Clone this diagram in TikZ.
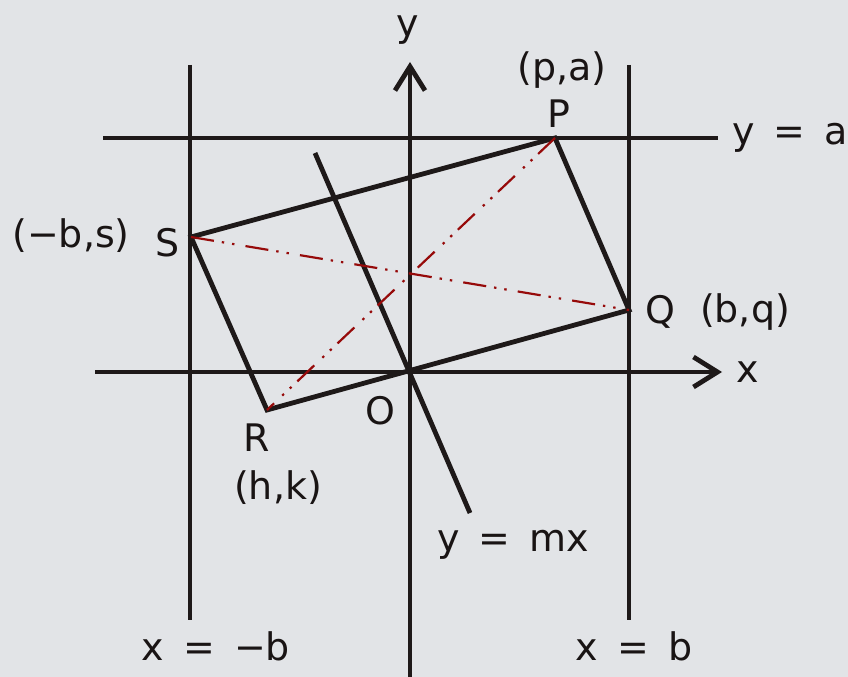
\documentclass[tikz,border=0pt]{standalone}
\usepackage{fontspec}
\setmainfont{DejaVu Sans}
\usetikzlibrary{arrows.meta}
\definecolor{marble}{RGB}{226,228,231}
\definecolor{diag}{RGB}{150,10,10}
\newcommand\lblfont{\fontsize{27}{30}\selectfont\spaceskip=0.5em\relax}

\begin{document}
\begin{tikzpicture}[
  x=0.25mm, y=-0.25mm,
  font=\lblfont,
  ln/.style={line width=1.2mm, draw={rgb,255:red,30;green,25;blue,25}},
  axis/.style={ln, -{Straight Barb[length=6mm, width=7.5mm, line width=1.2mm]}},
  dg/.style={diag, line width=0.55mm, dash pattern=on 5.8mm off 2mm on 0.6mm off 2mm on 0.6mm off 2.8mm},
  lbl/.style={inner sep=0pt, text={rgb,255:red,25;green,20;blue,20}},
]
\fill[marble] (0,0) rectangle (848,677);
\useasboundingbox (0,0) rectangle (848,677);

% ends of the lines
\coordinate (xl) at (95,372);   \coordinate (xr) at (722,372);
\coordinate (yb) at (410,677);  \coordinate (yt) at (410,62);
\coordinate (nbt) at (190,65);  \coordinate (nbb) at (190,620);
\coordinate (pbt) at (629,65);  \coordinate (pbb) at (629,620);
\coordinate (al) at (103,138);  \coordinate (ar) at (718,138);
\coordinate (mt) at (315,153);  \coordinate (mb) at (470,513);

% corners of the rectangle
\coordinate (P) at (555,138);
\coordinate (Q) at (629,310);
\coordinate (R) at (267,410);
\coordinate (S) at (191,237);

\draw[ln] (nbt) -- (nbb);
\draw[ln] (pbt) -- (pbb);
\draw[ln] (al) -- (ar);
\draw[ln] (mt) -- (mb);
\draw[axis] (yb) -- (yt);
\draw[axis] (xl) -- (xr);
\draw[ln, line join=miter] (P) -- (Q) -- (R) -- (S) -- cycle;

\draw[dg] (P) -- (R);
\draw[dg] (S) -- (Q);

\node[lbl] (ylab) at (408,30) {y};
\node[lbl] (xlab) at (748,372) {x};
\node[lbl] (pa) at (562,70) {(p,a)};
\node[lbl] (plab) at (559,114) {P};
\node[lbl] (ya) at (790,138) {y = a};
\node[lbl] (bs) at (71,236) {(−b,s)};
\node[lbl] (slab) at (168,243) {S};
\node[lbl] (qlab) at (660,312) {Q};
\node[lbl] (bq) at (745,312) {(b,q)};
\node[lbl] (rlab) at (257,438) {R};
\node[lbl] (hk) at (278,488) {(h,k)};
\node[lbl] (olab) at (380,411) {O};
\node[lbl] (ymx) at (513,545) {y = mx};
\node[lbl] (xnb) at (216,646) {x = −b};
\node[lbl] (xpb) at (634,646) {x = b};
\end{tikzpicture}
\end{document}
